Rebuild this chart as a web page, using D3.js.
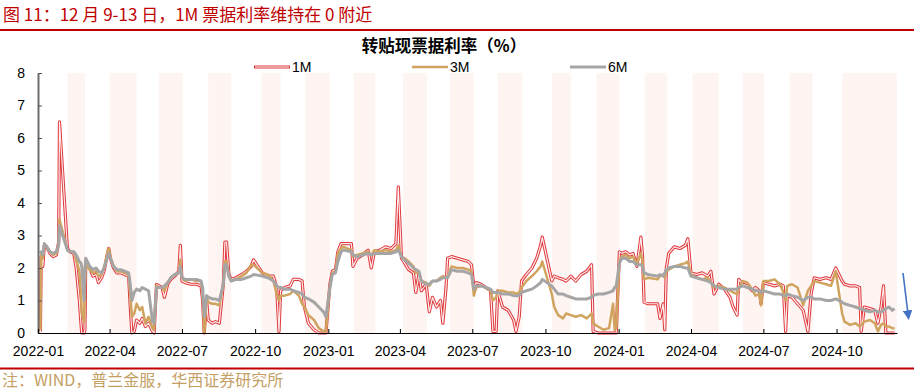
<!DOCTYPE html>
<html><head><meta charset="utf-8">
<script src="https://cdn.jsdelivr.net/npm/d3@7"></script>
<style>
html,body{margin:0;padding:0;background:#fff;}
svg{display:block;}
</style></head>
<body>
<svg id="chart" width="914" height="392"></svg>
<script>
// ---------- DATA ----------
const pageTitle = "图 11：12 月 9-13 日，1M 票据利率维持在 0 附近";
const chartTitle = "转贴现票据利率（%）";
const sourceText = "注：WIND，普兰金服，华西证券研究所";
const seriesNames = ["1M", "3M", "6M"];
const yTicks = [0, 1, 2, 3, 4, 5, 6, 7, 8];
const xTickLabels = ["2022-01","2022-04","2022-07","2022-10","2023-01","2023-04","2023-07","2023-10","2024-01","2024-04","2024-07","2024-10"];
const bandStarts = ["2022-02-07","2022-04-01","2022-06-02","2022-08-03","2022-10-09","2022-12-03","2023-02-02","2023-04-05","2023-06-03","2023-08-02","2023-10-09","2023-12-04","2024-02-03","2024-04-03","2024-06-05","2024-08-03","2024-10-08"];
const bandEnds   = ["2022-03-01","2022-05-05","2022-07-02","2022-09-01","2022-11-02","2023-01-03","2023-03-01","2023-05-05","2023-07-03","2023-09-02","2023-11-02","2024-01-02","2024-03-02","2024-05-06","2024-07-02","2024-09-01","2024-12-16"];
const dates = ["2022-01-04","2022-01-05","2022-01-07","2022-01-09","2022-01-12","2022-01-16","2022-01-20","2022-01-24","2022-01-27","2022-01-28","2022-02-07","2022-02-10","2022-02-15","2022-02-18","2022-02-22","2022-02-24","2022-02-25","2022-02-28","2022-03-01","2022-03-02","2022-03-07","2022-03-11","2022-03-15","2022-03-18","2022-03-22","2022-03-25","2022-03-29","2022-03-31","2022-04-02","2022-04-06","2022-04-10","2022-04-15","2022-04-20","2022-04-25","2022-04-27","2022-04-29","2022-05-02","2022-05-05","2022-05-09","2022-05-12","2022-05-16","2022-05-20","2022-05-25","2022-05-27","2022-05-30","2022-06-02","2022-06-06","2022-06-09","2022-06-13","2022-06-17","2022-06-22","2022-06-27","2022-06-29","2022-07-01","2022-07-05","2022-07-12","2022-07-19","2022-07-25","2022-07-27","2022-07-29","2022-08-01","2022-08-03","2022-08-08","2022-08-12","2022-08-17","2022-08-22","2022-08-24","2022-08-26","2022-08-29","2022-09-01","2022-09-07","2022-09-14","2022-09-20","2022-09-26","2022-09-29","2022-10-10","2022-10-17","2022-10-24","2022-10-28","2022-10-31","2022-11-02","2022-11-07","2022-11-14","2022-11-18","2022-11-25","2022-11-29","2022-12-02","2022-12-07","2022-12-14","2022-12-20","2022-12-26","2022-12-29","2023-01-03","2023-01-06","2023-01-10","2023-01-13","2023-01-17","2023-01-20","2023-01-30","2023-02-01","2023-02-06","2023-02-13","2023-02-20","2023-02-24","2023-02-28","2023-03-07","2023-03-14","2023-03-21","2023-03-27","2023-03-30","2023-04-03","2023-04-07","2023-04-12","2023-04-18","2023-04-21","2023-04-25","2023-04-28","2023-05-04","2023-05-08","2023-05-12","2023-05-17","2023-05-22","2023-05-25","2023-05-29","2023-05-31","2023-06-05","2023-06-12","2023-06-19","2023-06-26","2023-06-30","2023-07-03","2023-07-06","2023-07-12","2023-07-18","2023-07-24","2023-07-27","2023-07-31","2023-08-02","2023-08-08","2023-08-15","2023-08-22","2023-08-25","2023-08-29","2023-09-01","2023-09-07","2023-09-14","2023-09-20","2023-09-25","2023-09-27","2023-10-09","2023-10-12","2023-10-17","2023-10-23","2023-10-27","2023-11-02","2023-11-08","2023-11-15","2023-11-22","2023-11-28","2023-11-30","2023-12-06","2023-12-13","2023-12-20","2023-12-25","2023-12-27","2023-12-29","2024-01-02","2024-01-05","2024-01-10","2024-01-15","2024-01-19","2024-01-24","2024-01-29","2024-01-31","2024-02-02","2024-02-07","2024-02-19","2024-02-22","2024-02-26","2024-02-28","2024-03-01","2024-03-04","2024-03-11","2024-03-18","2024-03-25","2024-03-28","2024-04-01","2024-04-08","2024-04-15","2024-04-22","2024-04-26","2024-04-30","2024-05-06","2024-05-13","2024-05-20","2024-05-24","2024-05-29","2024-05-31","2024-06-05","2024-06-11","2024-06-17","2024-06-21","2024-06-26","2024-06-28","2024-07-01","2024-07-08","2024-07-15","2024-07-22","2024-07-26","2024-07-29","2024-07-31","2024-08-06","2024-08-13","2024-08-20","2024-08-26","2024-08-30","2024-09-03","2024-09-10","2024-09-18","2024-09-24","2024-09-30","2024-10-08","2024-10-11","2024-10-18","2024-10-25","2024-10-30","2024-11-01","2024-11-05","2024-11-12","2024-11-18","2024-11-22","2024-11-26","2024-11-29","2024-12-02","2024-12-06","2024-12-10","2024-12-13"];
const rate1M = [0.05,2.35,2.05,2.7,2.65,2.45,2.35,2.4,2.8,6.5,2.6,2.5,2.45,2.0,1.0,0.3,0.0,0.0,0.1,2.15,2.0,1.75,1.8,1.55,1.7,1.9,2.4,2.6,2.3,2.0,1.85,1.85,1.8,1.75,0.8,0.0,0.05,0.4,0.3,0.45,0.2,0.3,0.05,0.0,1.5,1.45,1.4,1.1,1.5,1.65,1.75,1.9,2.7,1.6,1.55,1.5,1.5,1.45,1.0,0.0,1.0,0.4,0.3,0.35,0.3,1.5,2.8,2.8,1.8,1.65,1.7,1.8,1.9,2.05,2.25,1.85,1.75,1.75,1.4,0.05,1.3,1.4,1.45,1.65,1.65,1.6,0.8,0.3,0.1,0.0,0.0,0.0,1.5,1.9,1.95,2.5,2.75,2.75,2.75,2.05,2.3,2.4,2.55,2.0,2.5,2.55,2.65,2.6,2.75,4.5,2.3,2.15,1.95,1.85,1.25,1.8,1.3,1.5,0.65,1.1,0.8,1.0,0.3,1.4,2.3,2.35,2.3,2.25,2.2,2.1,1.4,1.55,1.5,1.4,1.3,0.05,0.05,1.3,0.8,0.7,0.4,0.05,0.5,1.6,1.8,2.0,2.3,2.7,2.95,1.6,1.75,1.7,1.65,1.6,1.75,1.6,1.8,1.9,2.1,0.05,0.0,0.0,0.0,0.0,0.0,0.0,2.5,2.45,2.5,2.4,2.45,2.05,2.95,2.4,0.95,0.9,0.9,0.45,0.9,0.1,2.0,2.45,2.65,2.6,2.7,2.9,1.85,1.8,1.85,1.75,1.9,1.2,1.5,1.35,1.1,0.8,0.55,1.65,1.5,1.45,1.3,1.4,1.3,0.9,1.55,1.5,1.45,1.5,1.45,0.05,1.15,1.1,0.9,0.7,0.05,1.2,1.7,1.65,1.7,1.65,2.0,1.6,1.5,1.45,1.45,1.4,0.05,0.8,0.75,0.7,0.3,0.8,1.45,0.0,0.0,0.0,0.0];
const rate3M = [0.1,2.45,2.3,2.75,2.65,2.5,2.4,2.45,2.75,3.5,2.55,2.5,2.5,2.25,1.9,1.2,0.6,0.35,1.5,2.1,1.95,1.85,1.9,1.75,1.8,2.0,2.45,2.6,2.35,2.05,1.9,1.9,1.85,1.8,1.2,0.5,0.6,0.9,0.7,0.8,0.3,0.5,0.15,0.1,1.45,1.4,1.4,1.3,1.55,1.7,1.8,1.85,2.25,1.7,1.6,1.65,1.6,1.6,1.3,0.0,1.1,0.95,0.9,0.9,0.85,1.5,2.2,2.2,1.75,1.6,1.65,1.75,1.85,2.1,2.1,1.85,1.8,1.6,1.2,1.0,1.15,1.15,1.2,1.3,1.15,0.9,0.8,0.55,0.4,0.15,0.05,0.05,1.45,1.85,1.9,2.45,2.6,2.65,2.55,2.35,2.4,2.45,2.5,2.4,2.55,2.5,2.55,2.5,2.55,2.7,2.35,2.3,2.2,2.05,1.85,1.85,1.6,1.55,1.45,1.6,1.6,1.7,1.75,1.7,1.75,2.05,2.0,2.0,1.95,1.9,1.15,1.4,1.45,1.4,1.3,1.0,1.1,1.3,1.3,1.25,1.25,1.2,1.25,1.4,1.6,1.75,1.9,2.05,2.2,1.2,0.8,0.55,0.45,0.6,0.55,0.5,0.55,0.45,0.6,0.3,0.2,0.1,0.15,0.9,0.1,0.15,2.25,2.35,2.4,2.3,2.35,2.15,2.45,2.2,1.65,1.7,1.65,1.75,1.8,1.7,1.9,1.95,2.05,2.1,2.15,2.2,1.8,1.7,1.65,1.7,1.55,1.4,1.45,1.4,1.3,1.25,1.2,1.35,1.6,1.55,1.35,1.15,1.2,0.85,1.6,1.6,1.65,1.5,1.25,1.0,1.45,1.5,1.4,0.85,1.3,1.45,1.6,1.55,1.5,1.45,1.9,0.6,0.35,0.25,0.3,0.2,0.25,0.35,0.4,0.3,0.05,0.25,0.3,0.2,0.2,0.15,0.15];
const rate6M = [2.45,2.5,2.4,2.75,2.65,2.5,2.45,2.5,2.7,3.3,2.55,2.5,2.5,2.4,2.2,2.15,2.05,1.0,1.9,2.3,2.05,1.95,2.0,1.9,1.85,2.0,2.3,2.45,2.3,2.05,1.95,1.95,1.9,1.85,1.5,1.0,1.25,1.35,1.3,1.4,1.35,1.3,0.35,0.3,1.4,1.4,1.4,1.45,1.55,1.7,1.8,1.85,2.05,1.7,1.65,1.65,1.65,1.6,1.4,0.5,1.15,1.1,1.05,1.05,1.0,1.5,2.1,2.1,1.75,1.6,1.65,1.65,1.7,1.75,1.8,1.75,1.7,1.6,1.45,1.4,1.4,1.35,1.35,1.3,1.25,1.2,1.1,1.05,0.95,0.8,0.65,0.5,1.4,1.8,1.85,2.2,2.5,2.55,2.5,2.4,2.35,2.4,2.45,2.4,2.45,2.45,2.45,2.45,2.5,2.55,2.35,2.25,2.15,2.0,1.95,1.9,1.6,1.5,1.5,1.6,1.6,1.65,1.7,1.7,1.7,1.95,1.9,1.9,1.85,1.8,1.35,1.45,1.45,1.4,1.35,1.25,1.25,1.25,1.2,1.2,1.15,1.15,1.15,1.25,1.3,1.35,1.45,1.55,1.65,1.45,1.35,1.2,1.2,1.15,1.1,1.05,1.05,1.05,1.1,1.15,1.2,1.2,1.25,1.3,1.4,1.45,2.15,2.3,2.3,2.2,2.2,2.1,2.1,2.05,1.85,1.8,1.75,1.8,1.75,1.85,1.95,2.0,2.05,2.05,2.0,2.0,1.75,1.7,1.65,1.6,1.55,1.45,1.4,1.35,1.35,1.35,1.35,1.4,1.45,1.4,1.35,1.3,1.3,1.25,1.3,1.25,1.2,1.2,1.15,1.15,1.2,1.15,1.1,1.0,1.1,1.1,1.05,1.05,1.0,1.0,1.05,0.95,0.9,0.85,0.8,0.75,0.75,0.7,0.65,0.7,0.65,0.65,0.7,0.75,0.8,0.7,0.75];

// ---------- LAYOUT ----------
const W = 914, H = 392;
const plot = {left: 38, right: 897, top: 73, bottom: 333};
const parse = d3.timeParse("%Y-%m-%d");
const svg = d3.select("#chart");
const latin = "'Liberation Sans', Arial, 'Noto Sans CJK SC', sans-serif";
const cjk = "'Noto Sans CJK SC', 'Liberation Sans', sans-serif";

const x = d3.scaleTime().domain([parse("2022-01-01"), parse("2024-12-16")]).range([plot.left, plot.right]);
const y = d3.scaleLinear().domain([0, 8]).range([plot.bottom, plot.top]);

// page title
svg.append("text").attr("x", 3).attr("y", 21)
  .attr("font-family", cjk).attr("font-size", 17).attr("fill", "#C00000")
  .text(pageTitle);
svg.append("line").attr("x1", 0).attr("x2", W).attr("y1", 30).attr("y2", 30)
  .attr("stroke", "#C00000").attr("stroke-width", 2);

// bands
svg.append("g").selectAll("rect").data(bandStarts.map((s, i) => [parse(s), parse(bandEnds[i])]))
  .join("rect")
  .attr("x", d => x(d[0])).attr("width", d => x(d[1]) - x(d[0]))
  .attr("y", plot.top).attr("height", plot.bottom - plot.top)
  .attr("fill", "#FEF5F2");

// chart title
svg.append("text").attr("x", 444).attr("y", 52).attr("text-anchor", "middle")
  .attr("font-family", cjk).attr("font-size", 16.5).attr("font-weight", "bold").attr("fill", "#000")
  .text(chartTitle);

// series
const rows = dates.map((d, i) => ({date: parse(d), v: [rate1M[i], rate3M[i], rate6M[i]]}));
const lineFor = k => d3.line().x(d => x(d.date)).y(d => y(d.v[k]));
const gLines = svg.append("g");
// 1M: double red line
gLines.append("path").datum(rows).attr("d", lineFor(0)).attr("fill", "none")
  .attr("stroke", "#E0383C").attr("stroke-width", 3.2).attr("stroke-linejoin", "round");
gLines.append("path").datum(rows).attr("d", lineFor(0)).attr("fill", "none")
  .attr("stroke", "#fff").attr("stroke-opacity", 0.9).attr("stroke-width", 1.2).attr("stroke-linejoin", "round");
gLines.append("path").datum(rows).attr("d", lineFor(1)).attr("fill", "none")
  .attr("stroke", "#D0A35F").attr("stroke-width", 2.5).attr("stroke-linejoin", "round");
gLines.append("path").datum(rows).attr("d", lineFor(2)).attr("fill", "none")
  .attr("stroke", "#A5A5A5").attr("stroke-width", 3).attr("stroke-linejoin", "round");

// axes
const yAxis = svg.append("g").attr("transform", `translate(${plot.left},0)`)
  .call(d3.axisLeft(y).tickValues(yTicks).tickFormat(d3.format("d")).tickSizeInner(-4).tickSizeOuter(0).tickPadding(13));
yAxis.select(".domain").attr("stroke", "#6e6e6e").attr("stroke-width", 2);
yAxis.selectAll(".tick line").attr("stroke", "#555");
yAxis.selectAll("text").attr("font-family", latin).attr("font-size", 14).attr("fill", "#000");

const xTickDates = xTickLabels.map(s => parse(s + "-01"));
const xAxis = svg.append("g").attr("transform", `translate(0,${plot.bottom})`)
  .call(d3.axisBottom(x).tickValues(xTickDates).tickFormat((d, i) => xTickLabels[i]).tickSizeInner(-4).tickSizeOuter(0).tickPadding(13));
xAxis.select(".domain").attr("stroke", "#000").attr("stroke-width", 1.2);
xAxis.selectAll(".tick line").attr("stroke", "#000");
xAxis.selectAll("text").attr("font-family", latin).attr("font-size", 14).attr("fill", "#000");

// legend
const legendItems = [
  {name: seriesNames[0], x1: 254, color: "#E0383C", w: 3.2, dbl: true},
  {name: seriesNames[1], x1: 412, color: "#D0A35F", w: 2.5},
  {name: seriesNames[2], x1: 570, color: "#A5A5A5", w: 3}
];
const lg = svg.append("g");
legendItems.forEach(it => {
  lg.append("line").attr("x1", it.x1).attr("x2", it.x1 + 36).attr("y1", 67).attr("y2", 67)
    .attr("stroke", it.color).attr("stroke-width", it.w);
  if (it.dbl) lg.append("line").attr("x1", it.x1 + 1).attr("x2", it.x1 + 35).attr("y1", 67).attr("y2", 67)
    .attr("stroke", "#fff").attr("stroke-width", 1.2);
  lg.append("text").attr("x", it.x1 + 38).attr("y", 72).attr("font-family", latin).attr("font-size", 14)
    .attr("fill", "#000").text(it.name);
});

// blue arrow
const defs = svg.append("defs");
defs.append("marker").attr("id", "ah").attr("viewBox", "0 0 10 10").attr("refX", 8).attr("refY", 5)
  .attr("markerWidth", 6).attr("markerHeight", 6).attr("orient", "auto")
  .append("path").attr("d", "M0,0 L10,5 L0,10 z").attr("fill", "#4472C4");
svg.append("line").attr("x1", 903).attr("y1", 273).attr("x2", 908.5).attr("y2", 318)
  .attr("stroke", "#4472C4").attr("stroke-width", 1.6).attr("marker-end", "url(#ah)");

// bottom rule + source
svg.append("line").attr("x1", 0).attr("x2", W).attr("y1", 368.5).attr("y2", 368.5)
  .attr("stroke", "#C00000").attr("stroke-width", 2);
svg.append("text").attr("x", 2).attr("y", 386).attr("font-family", cjk).attr("font-size", 16)
  .attr("fill", "#C4A064").text(sourceText);
</script>
</body></html>
